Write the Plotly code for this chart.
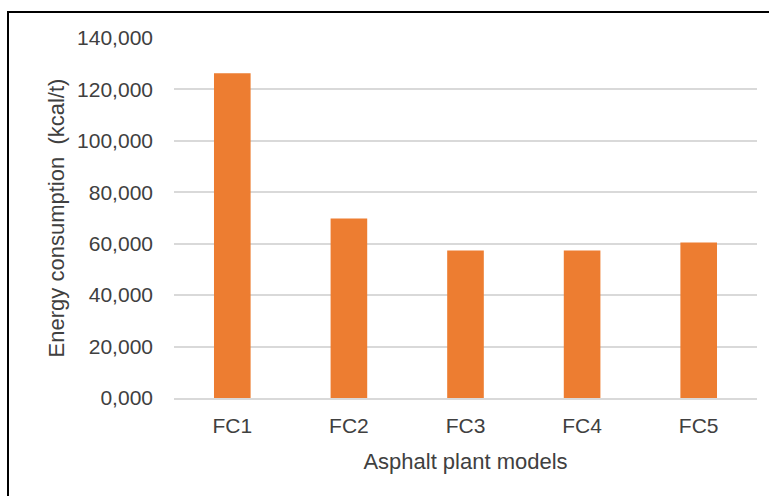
import plotly.graph_objects as go

# Energy consumption per plant model (kcal/t)
models = ["FC1", "FC2", "FC3", "FC4", "FC5"]
energy = [126300, 69800, 57400, 57400, 60500]

tick_values = [0, 20000, 40000, 60000, 80000, 100000, 120000, 140000]
tick_labels = ["0,000", "20,000", "40,000", "60,000", "80,000",
               "100,000", "120,000", "140,000"]

W, H = 769, 496
ML, MR, MT, MB = 174, 12, 38, 98
PW, PH = W - ML - MR, H - MT - MB

def px_x(x):
    return (x - ML) / PW

def px_y(y):
    return (H - MB - y) / PH

fig = go.Figure(
    go.Bar(
        x=models,
        y=energy,
        marker=dict(color="#ED7D31", line=dict(width=0)),
        hoverinfo="x+y",
    )
)

font_col = "#404040"

fig.update_layout(
    width=W,
    height=H,
    margin=dict(l=ML, r=MR, t=MT, b=MB, autoexpand=False),
    paper_bgcolor="white",
    plot_bgcolor="white",
    bargap=0.686,
    showlegend=False,
    font=dict(family="Liberation Sans, Arial, sans-serif", size=21, color=font_col),
    xaxis=dict(
        title=dict(text="Asphalt plant models", font=dict(size=22, color=font_col), standoff=18),
        showgrid=False,
        showline=True,
        linecolor="#D9D9D9",
        linewidth=1.5,
        ticks="",
        ticklabelstandoff=8,
        tickfont=dict(size=21, color=font_col),
        automargin=False,
    ),
    yaxis=dict(
        title=dict(text="Energy consumption  (kcal/t)", font=dict(size=22, color=font_col), standoff=6),
        range=[0, 140000],
        tickvals=tick_values,
        ticktext=tick_labels,
        showgrid=True,
        gridcolor="#D9D9D9",
        gridwidth=1.5,
        zeroline=False,
        showline=False,
        ticks="",
        ticklabelstandoff=20,
        tickfont=dict(size=21, color=font_col),
        automargin=False,
    ),
    shapes=[
        dict(
            type="rect",
            xref="paper", yref="paper",
            x0=px_x(8), x1=px_x(W + 10),
            y0=px_y(H + 10), y1=px_y(12),
            line=dict(color="black", width=2),
            fillcolor="rgba(0,0,0,0)",
            layer="below",
        )
    ],
)

fig.write_html("out.html")
